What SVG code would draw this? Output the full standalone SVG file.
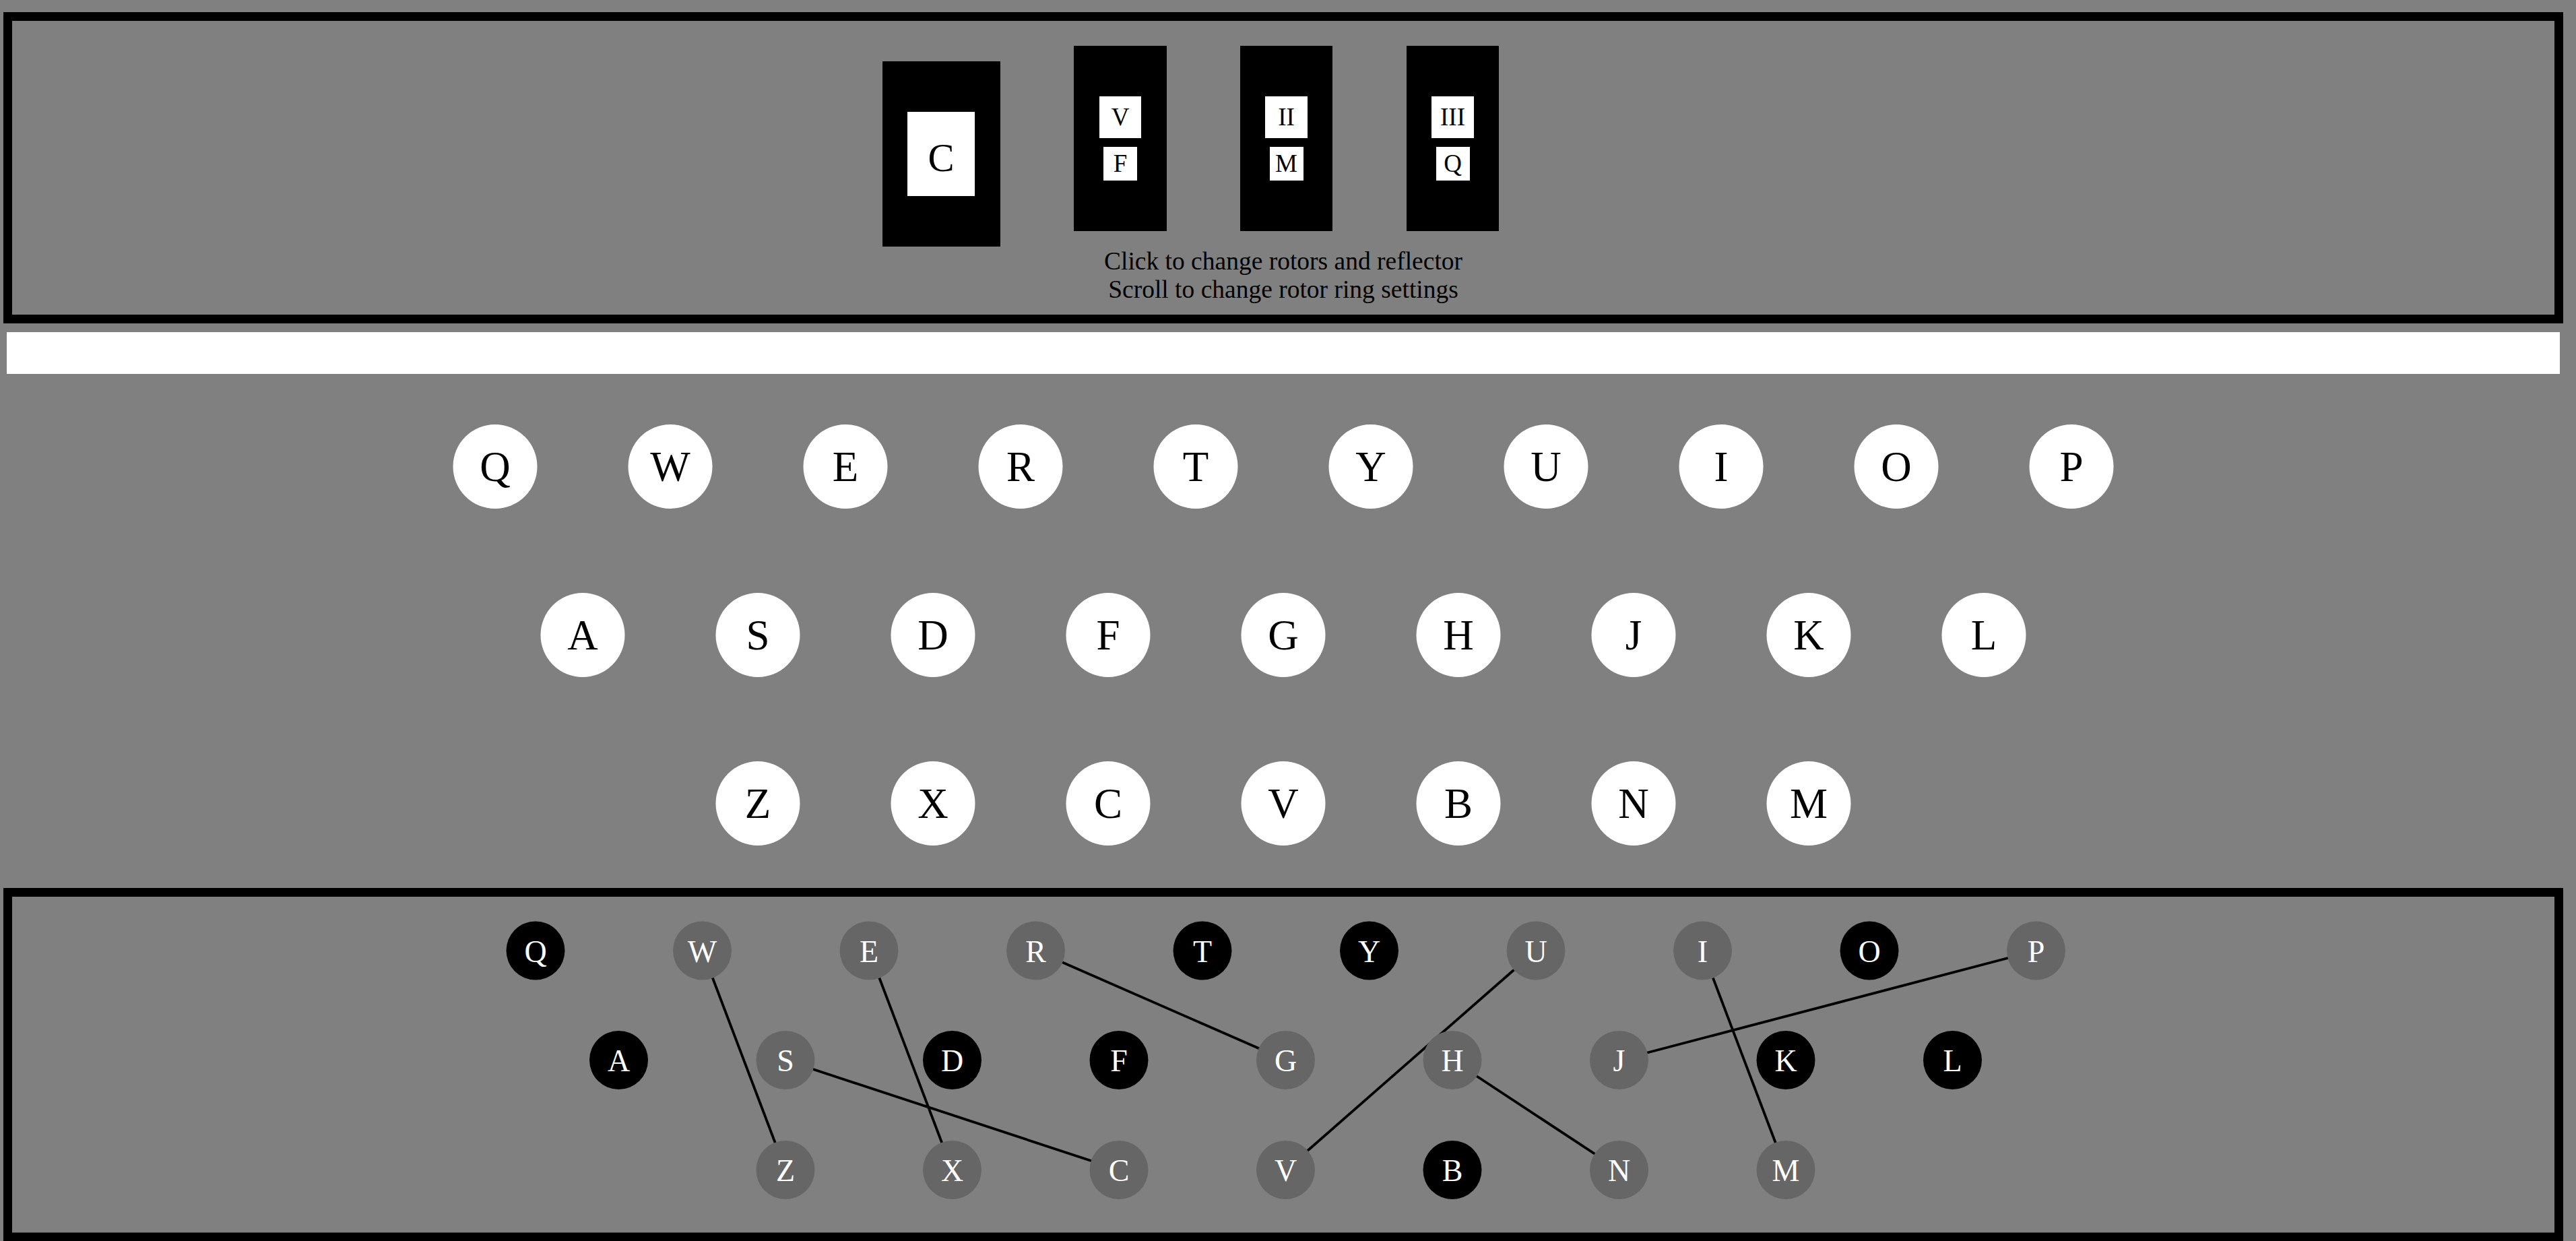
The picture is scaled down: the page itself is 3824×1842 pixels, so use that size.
<svg xmlns="http://www.w3.org/2000/svg" width="3824" height="1842" viewBox="0 0 3824 1842">
<style>
.panel{fill:none;stroke:#000;stroke-width:13}
.serif{font-family:"Liberation Serif","Times New Roman",serif;text-anchor:middle}
.key circle{fill:#fff}
.key text{font-size:63px;fill:#000}
.plug text{font-size:46px;fill:#fff}
.plug.free circle{fill:#000}
.plug.paired circle{fill:#666}
.rotor .body{fill:#000}
.rotor .win{fill:#fff}
.rotor text{font-size:37px;fill:#000}
.hint{font-size:37.5px;fill:#000}
#cables line{stroke:#000;stroke-width:3.8}
</style>
<rect x="0" y="0" width="3824" height="1842" fill="#808080"/>

<g id="rotor-panel">
<rect class="panel" x="11.5" y="24.5" width="3787" height="449"/>
<g id="reflector" class="rotor serif">
<rect class="body" x="1310" y="91" width="175" height="275"/>
<rect class="win" x="1347" y="166" width="100" height="125"/>
<text x="1397" y="253.5" style="font-size:58.6px">C</text>
</g>
<g id="rotor-left" class="rotor serif">
<rect class="body" x="1594" y="68" width="138" height="275"/>
<rect class="win" x="1632" y="143" width="62" height="62"/>
<rect class="win" x="1638" y="218" width="50" height="50"/>
<text x="1663" y="186">V</text>
<text x="1663" y="255">F</text>
</g>
<g id="rotor-middle" class="rotor serif">
<rect class="body" x="1841" y="68" width="137" height="275"/>
<rect class="win" x="1878" y="143" width="63" height="62"/>
<rect class="win" x="1885" y="218" width="50" height="50"/>
<text x="1909.5" y="186">II</text>
<text x="1909.5" y="255">M</text>
</g>
<g id="rotor-right" class="rotor serif">
<rect class="body" x="2088" y="68" width="137" height="275"/>
<rect class="win" x="2125" y="143" width="63" height="62"/>
<rect class="win" x="2132" y="218" width="50" height="50"/>
<text x="2156.5" y="186">III</text>
<text x="2156.5" y="255">Q</text>
</g>
<g id="hints" class="serif hint">
<text x="1905" y="400">Click to change rotors and reflector</text>
<text x="1905" y="441.7">Scroll to change rotor ring settings</text>
</g>
</g>

<rect id="output-bar" x="10" y="493" width="3790" height="62" fill="#fff"/>

<g id="keyboard" class="serif">
<g id="key-Q" class="key"><circle cx="735" cy="692.5" r="62.5"/><text x="735" y="713.5">Q</text></g>
<g id="key-W" class="key"><circle cx="995" cy="692.5" r="62.5"/><text x="995" y="713.5">W</text></g>
<g id="key-E" class="key"><circle cx="1255" cy="692.5" r="62.5"/><text x="1255" y="713.5">E</text></g>
<g id="key-R" class="key"><circle cx="1515" cy="692.5" r="62.5"/><text x="1515" y="713.5">R</text></g>
<g id="key-T" class="key"><circle cx="1775" cy="692.5" r="62.5"/><text x="1775" y="713.5">T</text></g>
<g id="key-Y" class="key"><circle cx="2035" cy="692.5" r="62.5"/><text x="2035" y="713.5">Y</text></g>
<g id="key-U" class="key"><circle cx="2295" cy="692.5" r="62.5"/><text x="2295" y="713.5">U</text></g>
<g id="key-I" class="key"><circle cx="2555" cy="692.5" r="62.5"/><text x="2555" y="713.5">I</text></g>
<g id="key-O" class="key"><circle cx="2815" cy="692.5" r="62.5"/><text x="2815" y="713.5">O</text></g>
<g id="key-P" class="key"><circle cx="3075" cy="692.5" r="62.5"/><text x="3075" y="713.5">P</text></g>
<g id="key-A" class="key"><circle cx="865" cy="942.5" r="62.5"/><text x="865" y="963.5">A</text></g>
<g id="key-S" class="key"><circle cx="1125" cy="942.5" r="62.5"/><text x="1125" y="963.5">S</text></g>
<g id="key-D" class="key"><circle cx="1385" cy="942.5" r="62.5"/><text x="1385" y="963.5">D</text></g>
<g id="key-F" class="key"><circle cx="1645" cy="942.5" r="62.5"/><text x="1645" y="963.5">F</text></g>
<g id="key-G" class="key"><circle cx="1905" cy="942.5" r="62.5"/><text x="1905" y="963.5">G</text></g>
<g id="key-H" class="key"><circle cx="2165" cy="942.5" r="62.5"/><text x="2165" y="963.5">H</text></g>
<g id="key-J" class="key"><circle cx="2425" cy="942.5" r="62.5"/><text x="2425" y="963.5">J</text></g>
<g id="key-K" class="key"><circle cx="2685" cy="942.5" r="62.5"/><text x="2685" y="963.5">K</text></g>
<g id="key-L" class="key"><circle cx="2945" cy="942.5" r="62.5"/><text x="2945" y="963.5">L</text></g>
<g id="key-Z" class="key"><circle cx="1125" cy="1192.5" r="62.5"/><text x="1125" y="1213.5">Z</text></g>
<g id="key-X" class="key"><circle cx="1385" cy="1192.5" r="62.5"/><text x="1385" y="1213.5">X</text></g>
<g id="key-C" class="key"><circle cx="1645" cy="1192.5" r="62.5"/><text x="1645" y="1213.5">C</text></g>
<g id="key-V" class="key"><circle cx="1905" cy="1192.5" r="62.5"/><text x="1905" y="1213.5">V</text></g>
<g id="key-B" class="key"><circle cx="2165" cy="1192.5" r="62.5"/><text x="2165" y="1213.5">B</text></g>
<g id="key-N" class="key"><circle cx="2425" cy="1192.5" r="62.5"/><text x="2425" y="1213.5">N</text></g>
<g id="key-M" class="key"><circle cx="2685" cy="1192.5" r="62.5"/><text x="2685" y="1213.5">M</text></g>
</g>

<rect class="panel" x="11.5" y="1324.5" width="3787" height="511.5"/>

<g id="cables">
<line x1="1042.5" y1="1411" x2="1166" y2="1736.5"/>
<line x1="1290" y1="1411" x2="1413.5" y2="1736.5"/>
<line x1="1537.5" y1="1411" x2="1908.5" y2="1573.5"/>
<line x1="1166" y1="1573.5" x2="1661" y2="1736.5"/>
<line x1="2280" y1="1411" x2="1908.5" y2="1736.5"/>
<line x1="2156" y1="1573.5" x2="2403.5" y2="1736.5"/>
<line x1="2527.5" y1="1411" x2="2651" y2="1736.5"/>
<line x1="3022.5" y1="1411" x2="2403.5" y2="1573.5"/>
</g>

<g id="plugboard" class="serif">
<g id="plug-Q" class="plug free"><circle cx="795" cy="1411" r="43.5"/><text x="795" y="1427.5">Q</text></g>
<g id="plug-W" class="plug paired"><circle cx="1042.5" cy="1411" r="43.5"/><text x="1042.5" y="1427.5">W</text></g>
<g id="plug-E" class="plug paired"><circle cx="1290" cy="1411" r="43.5"/><text x="1290" y="1427.5">E</text></g>
<g id="plug-R" class="plug paired"><circle cx="1537.5" cy="1411" r="43.5"/><text x="1537.5" y="1427.5">R</text></g>
<g id="plug-T" class="plug free"><circle cx="1785" cy="1411" r="43.5"/><text x="1785" y="1427.5">T</text></g>
<g id="plug-Y" class="plug free"><circle cx="2032.5" cy="1411" r="43.5"/><text x="2032.5" y="1427.5">Y</text></g>
<g id="plug-U" class="plug paired"><circle cx="2280" cy="1411" r="43.5"/><text x="2280" y="1427.5">U</text></g>
<g id="plug-I" class="plug paired"><circle cx="2527.5" cy="1411" r="43.5"/><text x="2527.5" y="1427.5">I</text></g>
<g id="plug-O" class="plug free"><circle cx="2775" cy="1411" r="43.5"/><text x="2775" y="1427.5">O</text></g>
<g id="plug-P" class="plug paired"><circle cx="3022.5" cy="1411" r="43.5"/><text x="3022.5" y="1427.5">P</text></g>
<g id="plug-A" class="plug free"><circle cx="918.5" cy="1573.5" r="43.5"/><text x="918.5" y="1590">A</text></g>
<g id="plug-S" class="plug paired"><circle cx="1166" cy="1573.5" r="43.5"/><text x="1166" y="1590">S</text></g>
<g id="plug-D" class="plug free"><circle cx="1413.5" cy="1573.5" r="43.5"/><text x="1413.5" y="1590">D</text></g>
<g id="plug-F" class="plug free"><circle cx="1661" cy="1573.5" r="43.5"/><text x="1661" y="1590">F</text></g>
<g id="plug-G" class="plug paired"><circle cx="1908.5" cy="1573.5" r="43.5"/><text x="1908.5" y="1590">G</text></g>
<g id="plug-H" class="plug paired"><circle cx="2156" cy="1573.5" r="43.5"/><text x="2156" y="1590">H</text></g>
<g id="plug-J" class="plug paired"><circle cx="2403.5" cy="1573.5" r="43.5"/><text x="2403.5" y="1590">J</text></g>
<g id="plug-K" class="plug free"><circle cx="2651" cy="1573.5" r="43.5"/><text x="2651" y="1590">K</text></g>
<g id="plug-L" class="plug free"><circle cx="2898.5" cy="1573.5" r="43.5"/><text x="2898.5" y="1590">L</text></g>
<g id="plug-Z" class="plug paired"><circle cx="1166" cy="1736.5" r="43.5"/><text x="1166" y="1753">Z</text></g>
<g id="plug-X" class="plug paired"><circle cx="1413.5" cy="1736.5" r="43.5"/><text x="1413.5" y="1753">X</text></g>
<g id="plug-C" class="plug paired"><circle cx="1661" cy="1736.5" r="43.5"/><text x="1661" y="1753">C</text></g>
<g id="plug-V" class="plug paired"><circle cx="1908.5" cy="1736.5" r="43.5"/><text x="1908.5" y="1753">V</text></g>
<g id="plug-B" class="plug free"><circle cx="2156" cy="1736.5" r="43.5"/><text x="2156" y="1753">B</text></g>
<g id="plug-N" class="plug paired"><circle cx="2403.5" cy="1736.5" r="43.5"/><text x="2403.5" y="1753">N</text></g>
<g id="plug-M" class="plug paired"><circle cx="2651" cy="1736.5" r="43.5"/><text x="2651" y="1753">M</text></g>
</g>
</svg>
